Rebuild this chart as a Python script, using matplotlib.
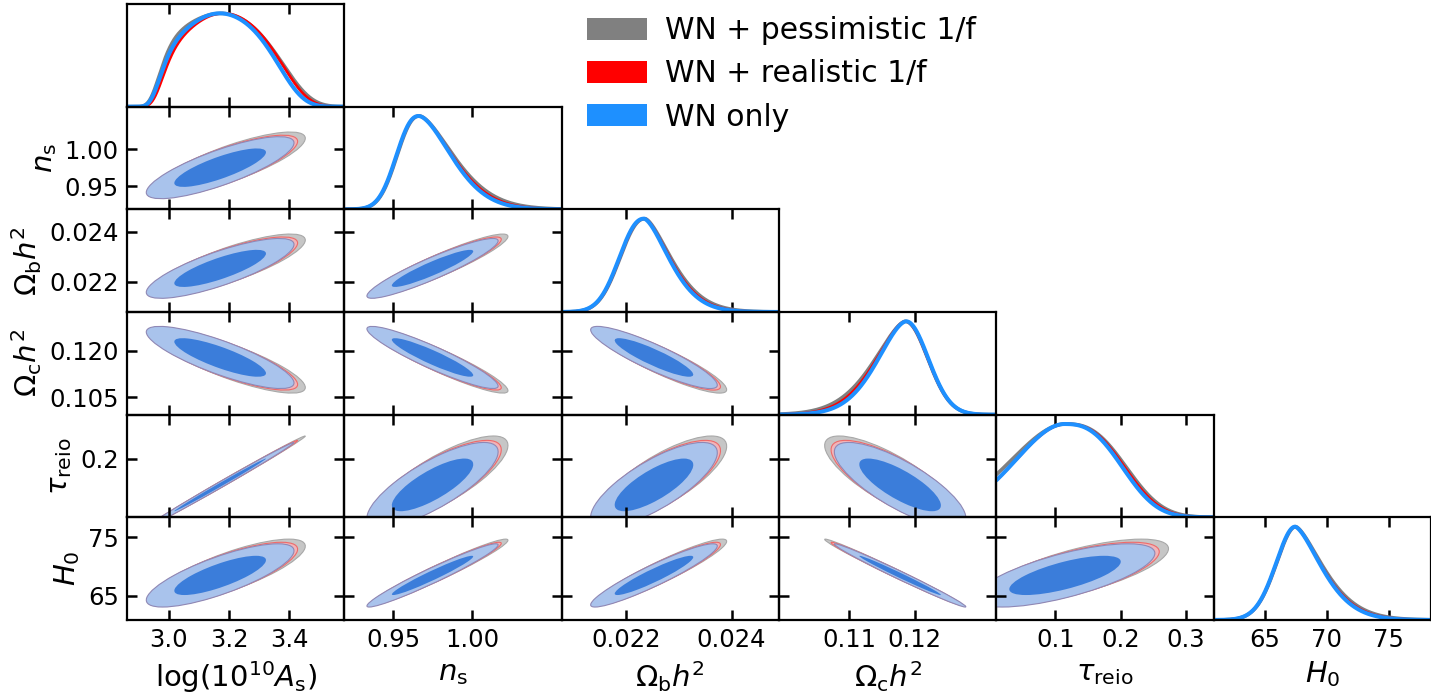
import numpy as np
import matplotlib
matplotlib.use('Agg')
import matplotlib.pyplot as plt
from matplotlib.patches import Ellipse, Patch

# parameters of the triangle plot
labels = [r'$\log(10^{10}A_\mathrm{s})$', r'$n_\mathrm{s}$', r'$\Omega_\mathrm{b}h^2$',
          r'$\Omega_\mathrm{c}h^2$', r'$\tau_\mathrm{reio}$', r'$H_0$']
lims = [(2.861, 3.582), (0.919, 1.057), (0.02078, 0.0249),
        (0.0993, 0.1325), (0.0101, 0.342), (60.9, 78.4)]
xticks = [[3.0, 3.2, 3.4], [0.95, 1.00], [0.022, 0.024], [0.11, 0.12], [0.1, 0.2, 0.3], [65, 70, 75]]
xticklabels = [['3.0', '3.2', '3.4'], ['0.95', '1.00'], ['0.022', '0.024'],
               ['0.11', '0.12'], ['0.1', '0.2', '0.3'], ['65', '70', '75']]
yticks = [[], [0.95, 1.00], [0.022, 0.024], [0.105, 0.120], [0.2], [65, 75]]
yticklabels = [[], ['0.95', '1.00'], ['0.022', '0.024'], ['0.105', '0.120'], ['0.2'], ['65', '75']]

runs = ['WN + pessimistic 1/f', 'WN + realistic 1/f', 'WN only']
line_colors = ['#808080', '#ff0000', '#1e90ff']

inf = np.inf
# 1D marginals: peak, then per side a gaussian core width, a tail width and tail exponent
peak_pess = [3.175, 0.9668, 0.02236, 0.1186, 0.1153, 67.50]
core_l_pess = [0.22, inf, inf, inf, inf, inf]
tail_l_pess = [0.20, 0.0137, 0.000455, 0.0045, 0.0832, 1.54]
pow_l_pess = [8, 2.3, 2.2, 1.6, 1.9, 1.9]
core_r_pess = [0.19, inf, inf, inf, inf, inf]
tail_r_pess = [0.245, 0.0202, 0.000465, 0.0034, 0.086, 2.05]
pow_r_pess = [4.6, 1.6, 1.55, 2.0, 2.7, 1.5]

peak_real = [3.18, 0.9665, 0.02235, 0.1186, 0.115, 67.47]
core_l_real = [0.183, inf, inf, inf, inf, inf]
tail_l_real = [0.198, 0.0137, 0.000452, 0.0043, 0.076, 1.53]
pow_l_real = [8, 2.3, 2.2, 1.65, 1.9, 1.9]
core_r_real = [0.187, inf, inf, inf, inf, inf]
tail_r_real = [0.23, 0.0198, 0.000455, 0.0034, 0.084, 2.00]
pow_r_real = [4.6, 1.65, 1.58, 2.0, 2.7, 1.52]

peak_wn = [3.169, 0.9663, 0.02234, 0.11872, 0.1138, 67.45]
core_l_wn = [0.185, inf, inf, inf, inf, inf]
tail_l_wn = [0.195, 0.01365, 0.000451, 0.00418, 0.075, 1.53]
pow_l_wn = [8, 2.3, 2.2, 1.7, 1.9, 1.9]
core_r_wn = [0.188, inf, inf, inf, inf, inf]
tail_r_wn = [0.224, 0.0194, 0.000446, 0.00336, 0.082, 1.976]
pow_r_wn = [4.6, 1.7, 1.6, 2.0, 2.7, 1.55]

# 2D contours: centre and width of each parameter, per run
cen_pess = [3.205, 0.9810, 0.02270, 0.11637, 0.1346, 69.27]
sig_pess = [0.101, 0.0171, 0.000493, 0.00412, 0.0565, 2.21]
cen_real = [3.182, 0.9770, 0.02259, 0.1173, 0.1217, 68.76]
sig_real = [0.100, 0.0170, 0.00049, 0.0041, 0.056, 2.20]
cen_wn = [3.170, 0.9750, 0.02253, 0.1178, 0.115, 68.5]
sig_wn = [0.100, 0.0170, 0.00049, 0.0041, 0.056, 2.20]

# correlation coefficients (row, column)
corr = {(1, 0): 0.80, (2, 0): 0.80, (3, 0): -0.82, (4, 0): 0.997, (5, 0): 0.78,
        (2, 1): 0.92, (3, 1): -0.92, (4, 1): 0.78, (5, 1): 0.965,
        (3, 2): -0.89, (4, 2): 0.76, (5, 2): 0.93,
        (4, 3): -0.78, (5, 3): -0.99,
        (5, 4): 0.70}

marg = [(peak_pess, core_l_pess, tail_l_pess, pow_l_pess, core_r_pess, tail_r_pess, pow_r_pess),
        (peak_real, core_l_real, tail_l_real, pow_l_real, core_r_real, tail_r_real, pow_r_real),
        (peak_wn, core_l_wn, tail_l_wn, pow_l_wn, core_r_wn, tail_r_wn, pow_r_wn)]
cont = [(cen_pess, sig_pess), (cen_real, sig_real), (cen_wn, sig_wn)]
fills = [('#c6c6c6', '#9c9c9c', '#a8a8a8'),
         ('#f2b4b8', '#e05a5a', '#ee6a6a'),
         ('#a9c3ec', '#3b7dda', '#8f88b5')]
lws = [2.6, 2.0, 2.9]


def density(x, peak, al, bl, pl, ar, br, pr):
    left = x < peak
    d = np.abs(x - peak)
    q = np.where(left, (d / al) ** 2 + (d / bl) ** pl, (d / ar) ** 2 + (d / br) ** pr)
    return np.exp(-0.5 * q)


def add_contour(ax, cx, cy, sx, sy, rho, r, color, edge):
    cov = np.array([[sx * sx, rho * sx * sy], [rho * sx * sy, sy * sy]])
    vals, vecs = np.linalg.eigh(cov)
    ang = np.degrees(np.arctan2(vecs[1, 1], vecs[0, 1]))
    e = Ellipse((cx, cy), 2 * r * np.sqrt(vals[1]), 2 * r * np.sqrt(vals[0]), angle=ang,
                facecolor=color, edgecolor=edge, linewidth=0.8 if edge != 'none' else 0)
    ax.add_patch(e)


W, H = 1431, 696
fig = plt.figure(figsize=(W / 100, H / 100), dpi=100)
x0, ytop = 127, 4
cw = (W - x0) / 6
rh = (620 - ytop) / 6

for i in range(6):
    for j in range(i + 1):
        ax = fig.add_axes([(x0 + j * cw) / W, 1 - (ytop + (i + 1) * rh) / H, cw / W, rh / H])
        ax.patch.set_visible(False)
        for s in ax.spines.values():
            s.set_linewidth(1.6)
        ax.set_xlim(lims[j])
        ax.set_xticks(xticks[j])
        ax.set_xticklabels(xticklabels[j])
        ax.tick_params(direction='in', length=7, width=1.8, labelsize=17.5, pad=6,
                       top=True, bottom=True)
        if i == j:
            xs = np.linspace(lims[j][0], lims[j][1], 600)
            for k in range(3):
                pars = [m[j] for m in marg[k]]
                ax.plot(xs, density(xs, *pars), color=line_colors[k], lw=lws[k],
                        solid_capstyle='round')
            ax.set_ylim(0, 1.1)
            ax.set_yticks([])
        else:
            ax.set_ylim(lims[i])
            ax.set_yticks(yticks[i])
            ax.set_yticklabels(yticklabels[i])
            ax.tick_params(axis='y', left=True, right=True)
            for k in range(3):
                cen, sig = cont[k]
                outer, inner, edge = fills[k]
                rho = corr[(i, j)]
                add_contour(ax, cen[j], cen[i], sig[j], sig[i], rho, 2.45, outer, edge)
                add_contour(ax, cen[j], cen[i], sig[j], sig[i], rho, 1.52, inner, 'none')
        if i == 5:
            ax.set_xlabel(labels[j], fontsize=21, labelpad=5)
        else:
            ax.tick_params(labelbottom=False)
        if j == 0 and i > 0:
            ax.set_ylabel(labels[i], fontsize=21)
        else:
            ax.tick_params(labelleft=False)

handles = [Patch(facecolor=c, edgecolor='none', label=r) for c, r in zip(line_colors, runs)]
fig.legend(handles=handles, loc='upper left', bbox_to_anchor=(587 / W, 1 - 16 / H),
           frameon=False, fontsize=21.5, handlelength=2.0, handleheight=0.75,
           handletextpad=0.62, labelspacing=0.48, borderpad=0, borderaxespad=0)

fig.savefig('out.png', dpi=100)
